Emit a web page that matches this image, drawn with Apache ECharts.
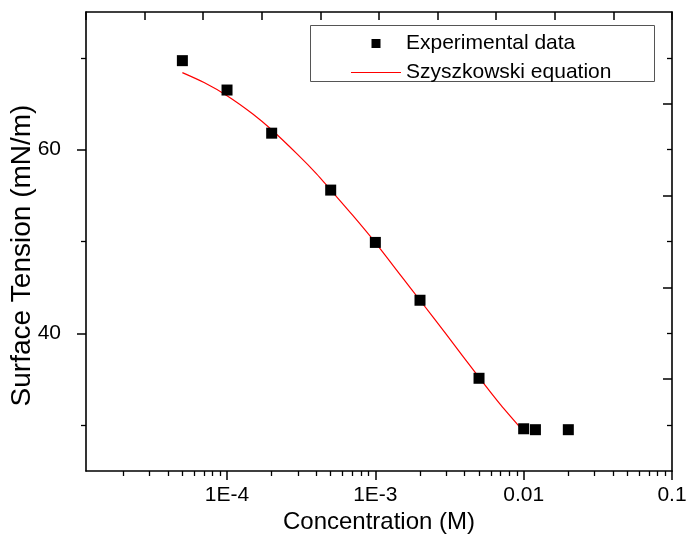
<!DOCTYPE html>
<html>
<head>
<meta charset="utf-8">
<script src="https://cdn.jsdelivr.net/npm/echarts@6/dist/echarts.min.js"></script>
<style>
html,body{margin:0;padding:0;background:#fff;}
#chart{width:687px;height:546px;}
</style>
</head>
<body>
<div id="chart"></div>
<script>
// Experimental data
const expConc = [5e-5, 1e-4, 2e-4, 5e-4, 1e-3, 2e-3, 5e-3, 0.01, 0.012, 0.02];
const expTension = [69.7, 66.5, 61.8, 55.6, 49.9, 43.6, 35.1, 29.6, 29.5, 29.5];
// Szyszkowski fit curve
const fitConc = [5e-5, 7e-5, 1e-4, 1.5e-4, 2e-4, 3e-4, 4e-4, 5e-4, 7e-4, 1e-3, 1.5e-3, 2e-3, 3e-3, 5e-3, 7e-3, 1e-2];
const fitTension = [68.4, 67.32, 65.89, 63.87, 62.17, 59.46, 57.4, 55.61, 52.89, 49.88, 46.2, 43.6, 39.9, 35.2, 32.2, 29.3];
// Axis ticks
const xMajorTicks = [1e-4, 1e-3, 1e-2, 1e-1];
const xTickLabels = ['1E-4', '1E-3', '0.01', '0.1'];
const xMinorTicks = [2e-5,3e-5,4e-5,5e-5,6e-5,7e-5,8e-5,9e-5,
                     2e-4,3e-4,4e-4,5e-4,6e-4,7e-4,8e-4,9e-4,
                     2e-3,3e-3,4e-3,5e-3,6e-3,7e-3,8e-3,9e-3,
                     2e-2,3e-2,4e-2,5e-2,6e-2,7e-2,8e-2,9e-2];
const yLabelTicks = [40, 60];
const yLeftMinorTicks = [30, 50, 70];
const yRightMajorTicks = [35, 45, 55, 65];
const yRightMinorTicks = [30, 40, 50, 60, 70];
const topTicks = [0,1,2,3,4,5,6,7,8,9,10];
const seriesNames = ['Experimental data', 'Szyszkowski equation'];

const FONT = '"Liberation Sans", Arial, sans-serif';
const xMin = 1.12e-5, xMax = 0.1, yMin = 25, yMax = 75;

const chart = echarts.init(document.getElementById('chart'));
const axisLine = {show: true, onZero: false, lineStyle: {color: '#000', width: 1.6}};
const noLine = {show: false, onZero: false};

chart.setOption({
  animation: false,
  backgroundColor: '#fff',
  grid: {left: 86, right: 15, top: 12, bottom: 75, containLabel: false, outerBoundsMode: 'none'},
  legend: {
    orient: 'vertical', left: 351, top: 33, z: 5,
    itemWidth: 50, itemHeight: 9, itemGap: 8, padding: 0,
    textStyle: {fontFamily: FONT, fontSize: 21, color: '#000'},
    data: [
      {name: seriesNames[0], icon: 'path://M0,0h10v10h-10z'},
      {name: seriesNames[1], icon: 'path://M0,0h50v1.2h-50z'}
    ]
  },
  graphic: [{
    type: 'rect', z: 1,
    shape: {x: 310.5, y: 25.5, width: 344, height: 56},
    style: {fill: '#fff', stroke: '#555', lineWidth: 1}
  }],
  xAxis: [
    {
      type: 'log', position: 'bottom', min: xMin, max: xMax,
      name: 'Concentration (M)', nameLocation: 'middle', nameGap: 39, nameMoveOverlap: false,
      nameTextStyle: {fontFamily: FONT, fontSize: 24, color: '#000'},
      axisLine: axisLine,
      axisTick: {show: true, inside: false, length: 9, lineStyle: {color: '#000', width: 1.5}, customValues: xMajorTicks},
      axisLabel: {show: true, margin: 14, fontFamily: FONT, fontSize: 21, color: '#000', customValues: xMajorTicks,
        formatter: function (v) { const i = xMajorTicks.findIndex(t => Math.abs(Math.log10(t) - Math.log10(v)) < 1e-6); return i >= 0 ? xTickLabels[i] : ''; }},
      splitLine: {show: false}, minorTick: {show: false}
    },
    {
      type: 'log', position: 'bottom', min: xMin, max: xMax,
      axisLine: noLine,
      axisTick: {show: true, inside: false, length: 5, lineStyle: {color: '#000', width: 1.3}, customValues: xMinorTicks},
      axisLabel: {show: false}, splitLine: {show: false}
    },
    {
      type: 'value', position: 'top', min: 0, max: 10, interval: 1,
      axisLine: axisLine,
      axisTick: {show: true, inside: true, length: 8, lineStyle: {color: '#000', width: 1.5}, customValues: topTicks},
      axisLabel: {show: false}, splitLine: {show: false}
    }
  ],
  yAxis: [
    {
      type: 'value', position: 'left', min: yMin, max: yMax,
      name: 'Surface Tension (mN/m)', nameLocation: 'middle', nameGap: 50, nameRotate: 90, nameMoveOverlap: false,
      nameTextStyle: {fontFamily: FONT, fontSize: 28, color: '#000', padding: [0, 28, 0, 0]},
      axisLine: axisLine,
      axisTick: {show: true, inside: false, length: 9, lineStyle: {color: '#000', width: 1.5}, customValues: yLabelTicks},
      axisLabel: {show: true, margin: 25, fontFamily: FONT, fontSize: 21, color: '#000', customValues: yLabelTicks},
      splitLine: {show: false}
    },
    {
      type: 'value', position: 'left', min: yMin, max: yMax,
      axisLine: noLine,
      axisTick: {show: true, inside: false, length: 5, lineStyle: {color: '#000', width: 1.3}, customValues: yLeftMinorTicks},
      axisLabel: {show: false}, splitLine: {show: false}
    },
    {
      type: 'value', position: 'right', min: yMin, max: yMax,
      axisLine: axisLine,
      axisTick: {show: true, inside: true, length: 9, lineStyle: {color: '#000', width: 1.5}, customValues: yRightMajorTicks},
      axisLabel: {show: false}, splitLine: {show: false}
    },
    {
      type: 'value', position: 'right', min: yMin, max: yMax,
      axisLine: noLine,
      axisTick: {show: true, inside: true, length: 5, lineStyle: {color: '#000', width: 1.3}, customValues: yRightMinorTicks},
      axisLabel: {show: false}, splitLine: {show: false}
    }
  ],
  series: [
    {
      name: seriesNames[0], type: 'scatter', xAxisIndex: 0, yAxisIndex: 0,
      symbol: 'rect', symbolSize: 11, z: 3,
      itemStyle: {color: '#000', opacity: 1},
      data: expConc.map((c, i) => [c, expTension[i]])
    },
    {
      name: seriesNames[1], type: 'line', xAxisIndex: 0, yAxisIndex: 0,
      symbol: 'none', showSymbol: false, smooth: 0.25, z: 2,
      lineStyle: {color: '#ff0000', width: 1.2},
      itemStyle: {color: '#ff0000'},
      data: fitConc.map((c, i) => [c, fitTension[i]])
    }
  ]
});
</script>
</body>
</html>
